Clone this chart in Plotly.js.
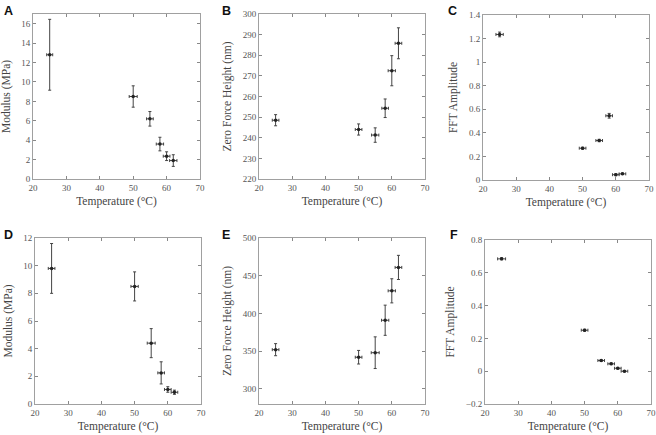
<!DOCTYPE html>
<html>
<head>
<meta charset="utf-8">
<script src="https://cdn.plot.ly/plotly-3.0.1.min.js"></script>
<style>html,body{margin:0;padding:0;background:#fff;}#chart{width:656px;height:435px;}</style>
</head>
<body>
<div id="chart"></div>
<script>
// Temperatures (°C)
const temps = [25, 50, 55, 58, 60, 62];

// Panel A: Modulus (MPa)
const modA = [12.8, 8.5, 6.2, 3.6, 2.35, 1.9];
const modAErr = [3.65, 1.1, 0.75, 0.7, 0.45, 0.6];
const modAXErr = [0.9, 1.2, 1.0, 1.1, 1.0, 1.1];

// Panel B: Zero Force Height (nm)
const zfhB = [248.5, 244, 241.3, 254.3, 272.5, 285.8];
const zfhBErr = [2.7, 2.7, 3.5, 4.5, 7.3, 7.5];
const zfhBXErr = [1.0, 1.0, 1.1, 1.0, 1.1, 1.0];

// Panel C: FFT Amplitude
const fftC = [1.235, 0.27, 0.335, 0.545, 0.045, 0.052];
const fftCErr = [0.02, 0.008, 0.01, 0.02, 0.008, 0.006];
const fftCXErr = [1.1, 1.0, 1.0, 1.0, 1.0, 1.0];

// Panel D: Modulus (MPa)
const modD = [9.8, 8.5, 4.4, 2.25, 1.05, 0.85];
const modDErr = [1.8, 1.05, 1.05, 0.8, 0.2, 0.15];
const modDXErr = [1.0, 1.1, 1.2, 1.0, 1.0, 1.0];

// Panel E: Zero Force Height (nm)
const zfhE = [352, 342, 348, 391, 430, 461];
const zfhEErr = [8, 9, 21, 20, 16, 16];
const zfhEXErr = [1.0, 1.0, 1.2, 1.1, 1.1, 1.0];

// Panel F: FFT Amplitude
const fftF = [0.685, 0.25, 0.065, 0.045, 0.018, 0.0];
const fftFErr = [0.006, 0.006, 0.005, 0.005, 0.005, 0.004];
const fftFXErr = [1.2, 1.0, 1.0, 1.0, 1.0, 1.0];

const xTitle = 'Temperature (°C)';
const panelLetters = ['A', 'B', 'C', 'D', 'E', 'F'];
const yTitles = ['Modulus (MPa)', 'Zero Force Height (nm)', 'FFT Amplitude',
                 'Modulus (MPa)', 'Zero Force Height (nm)', 'FFT Amplitude'];

const series = [
  [modA, modAErr, modAXErr],
  [zfhB, zfhBErr, zfhBXErr],
  [fftC, fftCErr, fftCXErr],
  [modD, modDErr, modDXErr],
  [zfhE, zfhEErr, zfhEXErr],
  [fftF, fftFErr, fftFXErr]
];

// layout geometry (pixels)
const W = 656, H = 435;
const boxes = [
  [33, 200, 14, 179],
  [259, 425, 14, 179],
  [483, 649, 15, 180],
  [35, 201, 238, 404],
  [259, 425, 238, 404],
  [485, 651, 240, 404]
];
const yRanges = [[0, 17], [220, 300], [0, 1.4], [0, 12], [280, 500], [-0.2, 0.8]];
const yDtick = [2, 10, 0.2, 2, 50, 0.2];
const letterPos = [[2, 2], [220, 2], [446, 2], [2, 226], [220, 226], [448, 226]];

const serif = 'Liberation Serif, Times New Roman, serif';
const frameColor = '#a0a0a0';
const data = [];
const layout = {
  width: W, height: H,
  margin: {l: 0, r: 0, t: 0, b: 0},
  paper_bgcolor: '#fff', plot_bgcolor: '#fff',
  showlegend: false,
  annotations: []
};

series.forEach((s, i) => {
  const n = i === 0 ? '' : String(i + 1);
  data.push({
    type: 'scatter', mode: 'markers',
    x: temps, y: s[0],
    xaxis: 'x' + n, yaxis: 'y' + n,
    marker: {color: '#222', size: 3.5, symbol: 'circle'},
    error_y: {type: 'data', array: s[1], visible: true, color: '#444', thickness: 1, width: 1.5},
    error_x: {type: 'data', array: s[2], visible: true, color: '#444', thickness: 1, width: 1.5}
  });
  const b = boxes[i];
  const common = {
    showline: true, mirror: 'ticks', linecolor: frameColor, linewidth: 1,
    ticks: 'inside', ticklen: 3, tickcolor: '#888', tickwidth: 1,
    showgrid: false, zeroline: false,
    tickfont: {family: serif, size: 9, color: '#555'}
  };
  layout['xaxis' + n] = Object.assign({}, common, {
    domain: [b[0] / W, b[1] / W],
    anchor: 'y' + n,
    range: [20, 70], dtick: 10, tick0: 20,
    title: {text: xTitle, font: {family: serif, size: 11.5, color: '#444'}, standoff: 5}
  });
  layout['yaxis' + n] = Object.assign({}, common, {
    domain: [1 - b[3] / H, 1 - b[2] / H],
    anchor: 'x' + n,
    range: yRanges[i], dtick: yDtick[i],
    tick0: i === 4 ? 300 : yRanges[i][0],
    title: {text: yTitles[i], font: {family: serif, size: 11.5, color: '#444'}, standoff: 8}
  });
  layout.annotations.push({
    xref: 'paper', yref: 'paper',
    x: letterPos[i][0] / W, y: 1 - letterPos[i][1] / H,
    xanchor: 'left', yanchor: 'top',
    text: '<b>' + panelLetters[i] + '</b>', showarrow: false,
    font: {family: 'Liberation Sans, Arial, sans-serif', size: 12.5, color: '#111'}
  });
});

Plotly.newPlot('chart', data, layout, {displayModeBar: false, staticPlot: true});
</script>
</body>
</html>
